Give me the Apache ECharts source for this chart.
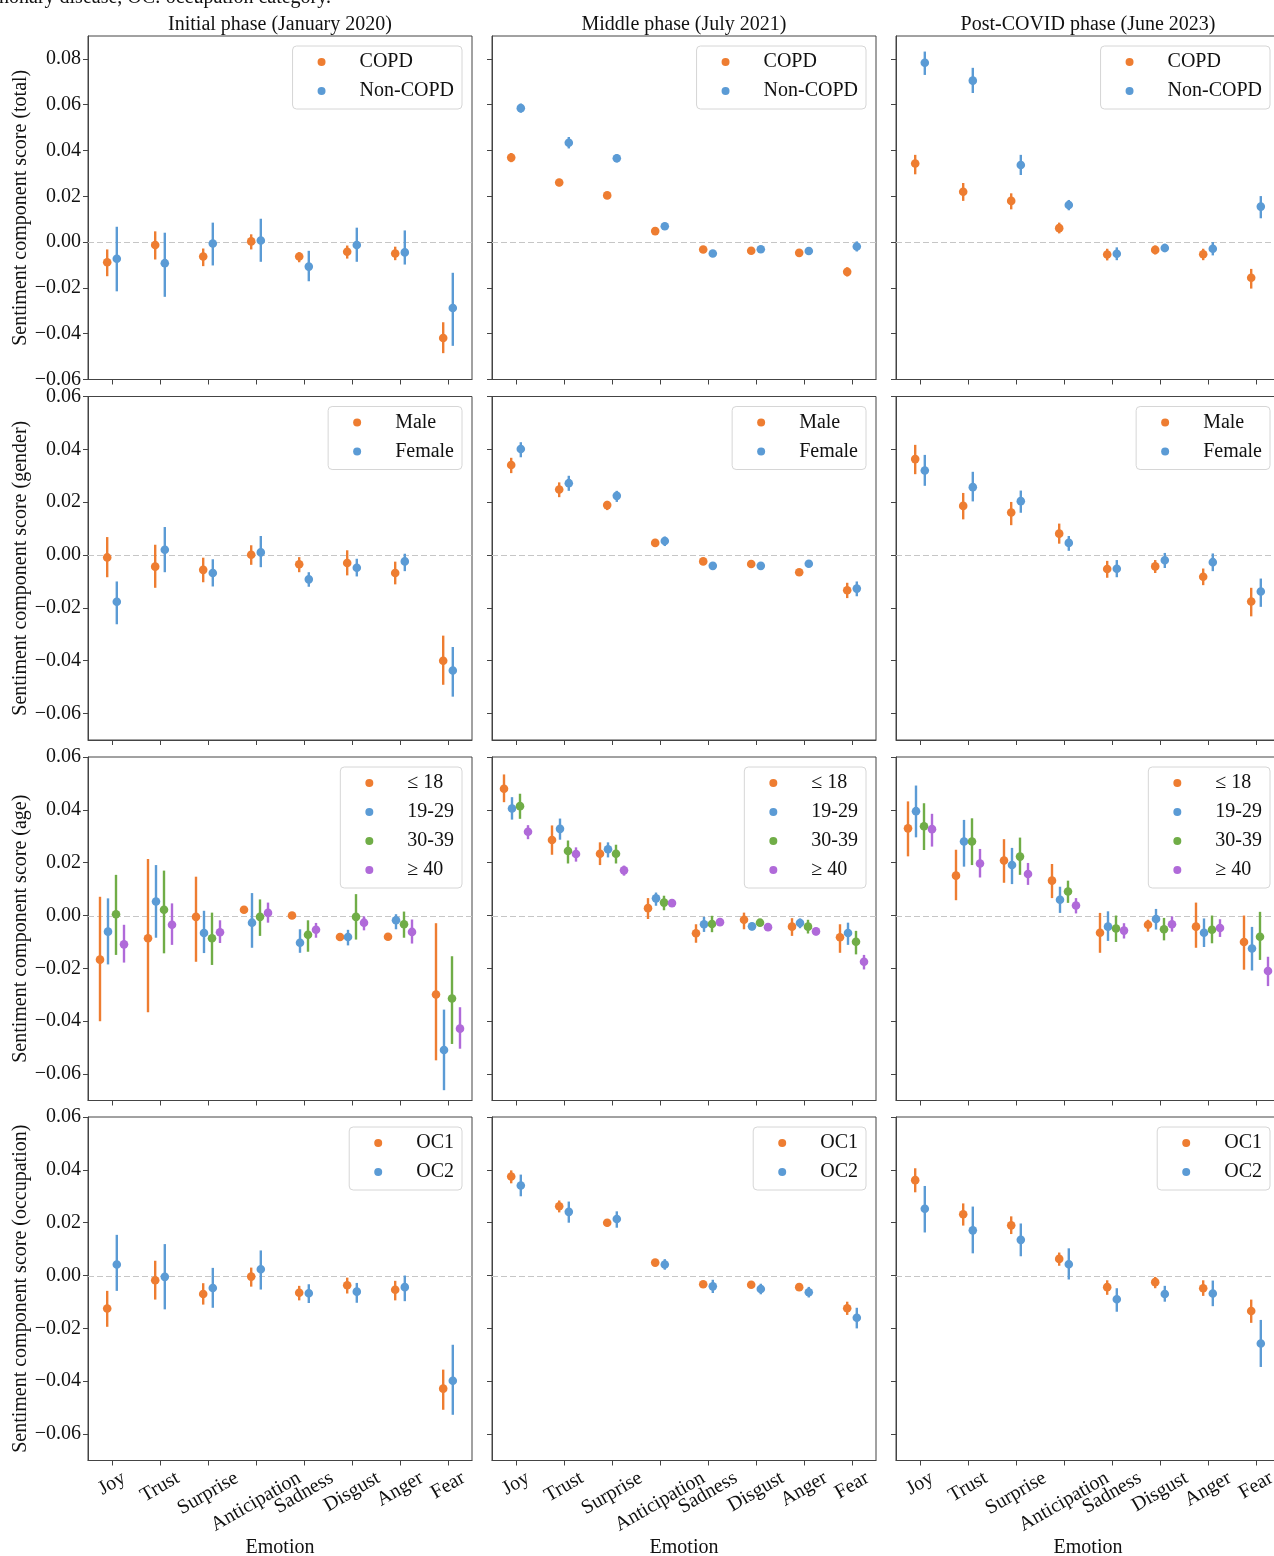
<!DOCTYPE html>
<html>
<head>
<meta charset="utf-8">
<script src="https://cdn.jsdelivr.net/npm/echarts@6/dist/echarts.min.js"></script>
<style>
  html, body { margin: 0; padding: 0; background: #fff; }
  #chart { width: 1274px; height: 1556px; }
</style>
</head>
<body>
<div id="chart"></div>
<script>
// categories and labels
const emotions = ['Joy', 'Trust', 'Surprise', 'Anticipation', 'Sadness', 'Disgust', 'Anger', 'Fear'];
const phases = ['Initial phase (January 2020)', 'Middle phase (July 2021)', 'Post-COVID phase (June 2023)'];
const rowNames = ['total', 'gender', 'age', 'occupation'];
const totalGroups = ['COPD', 'Non-COPD'];
const genderGroups = ['Male', 'Female'];
const ageGroups = ['≤ 18', '19-29', '30-39', '≥ 40'];
const occGroups = ['OC1', 'OC2'];
const ticksTotal = [-0.06, -0.04, -0.02, 0, 0.02, 0.04, 0.06, 0.08];
const ticksOther = [-0.06, -0.04, -0.02, 0, 0.02, 0.04, 0.06];

// each entry: [mean, lower, upper] per emotion
const totalInitialCOPD = [[-0.0088,-0.0149,-0.0032],[-0.0013,-0.0076,0.0047],[-0.0063,-0.0105,-0.0028],[0.0003,-0.0032,0.0034],[-0.0063,-0.0088,-0.0044],[-0.0042,-0.0072,-0.0015],[-0.0050,-0.0079,-0.0020],[-0.0419,-0.0485,-0.0350]];
const totalInitialNon = [[-0.0073,-0.0215,0.0067],[-0.0092,-0.0239,0.0041],[-0.0006,-0.0102,0.0085],[0.0007,-0.0086,0.0102],[-0.0107,-0.0171,-0.0038],[-0.0013,-0.0086,0.0063],[-0.0045,-0.0098,0.0051],[-0.0288,-0.0453,-0.0134]];
const totalMiddleCOPD = [[0.0369,0.0349,0.0389],[0.0260,0.0244,0.0276],[0.0204,0.0192,0.0216],[0.0048,0.0038,0.0058],[-0.0032,-0.0042,-0.0022],[-0.0038,-0.0048,-0.0028],[-0.0047,-0.0057,-0.0037],[-0.0130,-0.0150,-0.0110]];
const totalMiddleNon = [[0.0585,0.0565,0.0605],[0.0434,0.0409,0.0459],[0.0366,0.0348,0.0384],[0.0069,0.0059,0.0079],[-0.0050,-0.0060,-0.0040],[-0.0031,-0.0041,-0.0021],[-0.0039,-0.0049,-0.0029],[-0.0019,-0.0041,0.0003]];
const totalPostCOPD = [[0.0343,0.0296,0.0381],[0.0220,0.0180,0.0258],[0.0180,0.0143,0.0213],[0.0061,0.0038,0.0085],[-0.0054,-0.0080,-0.0029],[-0.0034,-0.0054,-0.0015],[-0.0053,-0.0079,-0.0029],[-0.0156,-0.0203,-0.0117]];
const totalPostNon = [[0.0783,0.0730,0.0832],[0.0705,0.0651,0.0761],[0.0337,0.0293,0.0381],[0.0162,0.0139,0.0184],[-0.0051,-0.0079,-0.0023],[-0.0026,-0.0044,-0.0007],[-0.0029,-0.0058,0.0000],[0.0155,0.0104,0.0201]];

const genderInitialMale = [[-0.0009,-0.0084,0.0068],[-0.0044,-0.0124,0.0039],[-0.0056,-0.0103,-0.0010],[0.0001,-0.0037,0.0037],[-0.0035,-0.0065,-0.0008],[-0.0030,-0.0077,0.0018],[-0.0068,-0.0111,-0.0025],[-0.0400,-0.0491,-0.0305]];
const genderInitialFemale = [[-0.0177,-0.0262,-0.0100],[0.0020,-0.0065,0.0106],[-0.0068,-0.0119,-0.0016],[0.0010,-0.0046,0.0072],[-0.0092,-0.0120,-0.0065],[-0.0048,-0.0081,-0.0014],[-0.0024,-0.0061,0.0005],[-0.0437,-0.0536,-0.0348]];
const genderMiddleMale = [[0.0341,0.0310,0.0368],[0.0248,0.0219,0.0275],[0.0189,0.0170,0.0205],[0.0046,0.0031,0.0061],[-0.0024,-0.0037,-0.0011],[-0.0034,-0.0044,-0.0024],[-0.0065,-0.0077,-0.0053],[-0.0133,-0.0163,-0.0105]];
const genderMiddleFemale = [[0.0401,0.0370,0.0427],[0.0272,0.0243,0.0300],[0.0224,0.0201,0.0243],[0.0053,0.0034,0.0070],[-0.0041,-0.0054,-0.0028],[-0.0041,-0.0051,-0.0031],[-0.0033,-0.0045,-0.0021],[-0.0127,-0.0156,-0.0100]];
const genderPostMale = [[0.0363,0.0306,0.0417],[0.0186,0.0135,0.0235],[0.0161,0.0113,0.0201],[0.0081,0.0043,0.0119],[-0.0053,-0.0086,-0.0022],[-0.0043,-0.0068,-0.0019],[-0.0082,-0.0114,-0.0051],[-0.0176,-0.0232,-0.0124]];
const genderPostFemale = [[0.0320,0.0262,0.0379],[0.0257,0.0203,0.0315],[0.0204,0.0160,0.0244],[0.0046,0.0016,0.0072],[-0.0052,-0.0084,-0.0019],[-0.0020,-0.0049,0.0008],[-0.0027,-0.0061,0.0006],[-0.0138,-0.0196,-0.0089]];

const ageInitial18 = [[-0.0167,-0.0400,0.0071],[-0.0086,-0.0366,0.0214],[-0.0005,-0.0175,0.0147],[0.0022,0.0022,0.0022],[0.0000,0.0000,0.0000],[-0.0081,-0.0081,-0.0081],[-0.0080,-0.0080,-0.0080],[-0.0299,-0.0548,-0.0029]];
const ageInitial19 = [[-0.0061,-0.0185,0.0065],[0.0053,-0.0084,0.0191],[-0.0066,-0.0142,0.0018],[-0.0027,-0.0122,0.0085],[-0.0103,-0.0141,-0.0052],[-0.0081,-0.0113,-0.0054],[-0.0018,-0.0052,0.0005],[-0.0509,-0.0661,-0.0356]];
const ageInitial30 = [[0.0005,-0.0149,0.0154],[0.0022,-0.0143,0.0170],[-0.0086,-0.0187,0.0011],[-0.0005,-0.0077,0.0061],[-0.0073,-0.0137,-0.0018],[-0.0005,-0.0091,0.0081],[-0.0033,-0.0084,0.0015],[-0.0314,-0.0486,-0.0154]];
const ageInitial40 = [[-0.0109,-0.0178,-0.0035],[-0.0035,-0.0111,0.0046],[-0.0063,-0.0104,-0.0018],[0.0010,-0.0027,0.0049],[-0.0054,-0.0084,-0.0028],[-0.0027,-0.0056,-0.0003],[-0.0062,-0.0106,-0.0015],[-0.0428,-0.0504,-0.0347]];
const ageMiddle18 = [[0.0480,0.0429,0.0534],[0.0286,0.0230,0.0341],[0.0234,0.0191,0.0277],[0.0028,-0.0013,0.0066],[-0.0067,-0.0103,-0.0033],[-0.0016,-0.0052,0.0011],[-0.0042,-0.0077,-0.0010],[-0.0082,-0.0141,-0.0033]];
const ageMiddle19 = [[0.0405,0.0363,0.0448],[0.0328,0.0287,0.0367],[0.0251,0.0220,0.0277],[0.0065,0.0037,0.0087],[-0.0033,-0.0062,-0.0005],[-0.0041,-0.0056,-0.0027],[-0.0028,-0.0048,-0.0011],[-0.0066,-0.0111,-0.0027]];
const ageMiddle30 = [[0.0414,0.0366,0.0461],[0.0244,0.0197,0.0284],[0.0234,0.0197,0.0268],[0.0049,0.0020,0.0075],[-0.0032,-0.0063,-0.0001],[-0.0027,-0.0041,-0.0014],[-0.0042,-0.0068,-0.0016],[-0.0099,-0.0147,-0.0058]];
const ageMiddle40 = [[0.0317,0.0289,0.0342],[0.0233,0.0204,0.0258],[0.0171,0.0151,0.0189],[0.0047,0.0037,0.0056],[-0.0025,-0.0039,-0.0011],[-0.0044,-0.0056,-0.0033],[-0.0060,-0.0075,-0.0046],[-0.0175,-0.0204,-0.0149]];
const agePost18 = [[0.0330,0.0224,0.0432],[0.0151,0.0058,0.0249],[0.0208,0.0124,0.0289],[0.0132,0.0066,0.0195],[-0.0065,-0.0141,0.0010],[-0.0035,-0.0061,-0.0016],[-0.0042,-0.0122,0.0049],[-0.0100,-0.0205,0.0000]];
const agePost19 = [[0.0395,0.0296,0.0492],[0.0280,0.0185,0.0362],[0.0191,0.0119,0.0256],[0.0060,0.0010,0.0109],[-0.0042,-0.0096,0.0016],[-0.0013,-0.0053,0.0025],[-0.0065,-0.0119,-0.0011],[-0.0125,-0.0208,-0.0043]];
const agePost30 = [[0.0338,0.0248,0.0425],[0.0280,0.0191,0.0368],[0.0223,0.0154,0.0295],[0.0091,0.0048,0.0132],[-0.0049,-0.0100,0.0000],[-0.0052,-0.0094,-0.0009],[-0.0054,-0.0105,0.0000],[-0.0080,-0.0168,0.0014]];
const agePost40 = [[0.0327,0.0261,0.0385],[0.0197,0.0144,0.0252],[0.0157,0.0116,0.0199],[0.0038,0.0008,0.0066],[-0.0057,-0.0087,-0.0029],[-0.0033,-0.0061,-0.0003],[-0.0047,-0.0081,-0.0014],[-0.0210,-0.0267,-0.0156]];

const occInitialOC1 = [[-0.0125,-0.0194,-0.0058],[-0.0018,-0.0091,0.0056],[-0.0070,-0.0110,-0.0029],[-0.0004,-0.0042,0.0030],[-0.0065,-0.0094,-0.0039],[-0.0037,-0.0068,-0.0008],[-0.0054,-0.0094,-0.0020],[-0.0428,-0.0508,-0.0356]];
const occInitialOC2 = [[0.0042,-0.0058,0.0154],[-0.0005,-0.0128,0.0119],[-0.0047,-0.0122,0.0029],[0.0024,-0.0053,0.0095],[-0.0067,-0.0104,-0.0033],[-0.0061,-0.0103,-0.0028],[-0.0044,-0.0097,0.0000],[-0.0398,-0.0527,-0.0262]];
const occMiddleOC1 = [[0.0375,0.0349,0.0398],[0.0262,0.0239,0.0284],[0.0200,0.0186,0.0214],[0.0049,0.0039,0.0059],[-0.0033,-0.0043,-0.0023],[-0.0035,-0.0045,-0.0025],[-0.0044,-0.0054,-0.0034],[-0.0124,-0.0149,-0.0099]];
const occMiddleOC2 = [[0.0341,0.0300,0.0382],[0.0241,0.0200,0.0280],[0.0214,0.0181,0.0243],[0.0042,0.0022,0.0062],[-0.0041,-0.0066,-0.0016],[-0.0051,-0.0071,-0.0031],[-0.0063,-0.0083,-0.0043],[-0.0160,-0.0200,-0.0122]];
const occPostOC1 = [[0.0361,0.0315,0.0406],[0.0232,0.0189,0.0273],[0.0190,0.0157,0.0224],[0.0063,0.0037,0.0087],[-0.0044,-0.0073,-0.0018],[-0.0025,-0.0048,-0.0005],[-0.0048,-0.0077,-0.0018],[-0.0134,-0.0179,-0.0091]];
const occPostOC2 = [[0.0253,0.0163,0.0339],[0.0171,0.0084,0.0261],[0.0135,0.0073,0.0197],[0.0043,-0.0015,0.0103],[-0.0090,-0.0137,-0.0048],[-0.0070,-0.0099,-0.0039],[-0.0068,-0.0116,-0.0019],[-0.0257,-0.0346,-0.0168]];

const rowGroups = [totalGroups, genderGroups, ageGroups, occGroups];
const cells = [
  [[totalInitialCOPD, totalInitialNon], [totalMiddleCOPD, totalMiddleNon], [totalPostCOPD, totalPostNon]],
  [[genderInitialMale, genderInitialFemale], [genderMiddleMale, genderMiddleFemale], [genderPostMale, genderPostFemale]],
  [[ageInitial18, ageInitial19, ageInitial30, ageInitial40], [ageMiddle18, ageMiddle19, ageMiddle30, ageMiddle40], [agePost18, agePost19, agePost30, agePost40]],
  [[occInitialOC1, occInitialOC2], [occMiddleOC1, occMiddleOC2], [occPostOC1, occPostOC2]]
];

const SERIF = '"Liberation Serif", "Times New Roman", serif';
const TXT = '#111';
const AXIS = '#444';
const palette = ['#EE7D31', '#5B9BD5', '#70AD47', '#B06AD9'];
const WIDTH = 1274;
const colLeft = [88, 492, 896];
const rowTop = [36, 396.5, 757, 1117];
const PW = 384, PH = 343.5;

function fmt(v) {
  const s = Math.abs(v).toFixed(2);
  return v < -1e-9 ? '\u2212' + s : s;
}

// rotated x labels hang centred under their tick, like matplotlib's rotated labels;
// top/right padding moves the text along its own rotated frame
const measureCtx = document.createElement('canvas').getContext('2d');
measureCtx.font = '20px ' + SERIF;
function bottomLabel(name) {
  const w = measureCtx.measureText(name).width;
  const depth = 7.5 + (w * 0.5 + 20 * 0.866) / 2;   // axis line to text centre
  const d = depth / 1.155;
  const pt = Math.max(0, d - 10);
  const pr = 2 * 0.577 * d;
  return {
    value: name,
    textStyle: { align: 'center', verticalAlign: 'top', lineHeight: 20, padding: [pt, pr, 0, 0] }
  };
}

function makeRender(off) {
  return function (params, api) {
    const band = api.size([1, 0])[0];
    const c = api.coord([api.value(0), api.value(1)]);
    const x = c[0] + off * band;
    const yLo = api.coord([api.value(0), api.value(2)])[1];
    const yHi = api.coord([api.value(0), api.value(3)])[1];
    const color = api.visual('color');
    return {
      type: 'group',
      children: [
        { type: 'line', shape: { x1: x, y1: yLo, x2: x, y2: yHi }, style: { stroke: color, lineWidth: 2.4 } },
        { type: 'circle', shape: { cx: x, cy: c[1], r: 4.3 }, style: { fill: color } }
      ]
    };
  };
}

// dashed reference line at zero, across the whole panel
function renderZero(params, api) {
  const cs = params.coordSys;
  const y = Math.round(api.coord([0, 0])[1]) + 0.5;
  return {
    type: 'line',
    shape: { x1: cs.x, y1: y, x2: cs.x + cs.width, y2: y },
    style: { stroke: '#c6c6c6', lineWidth: 1, lineDash: [6, 3] }
  };
}

const grids = [], xAxes = [], yAxes = [], series = [], legends = [];
for (let r = 0; r < 4; r++) {
  const groups = rowGroups[r];
  const n = groups.length;
  const dodge = n === 2 ? 0.2 : 0.5;
  const ticks = r === 0 ? ticksTotal : ticksOther;
  for (let c = 0; c < 3; c++) {
    const g = grids.length;
    grids.push({
      left: colLeft[c], top: rowTop[r], width: PW, height: PH,
      show: true, borderColor: AXIS, borderWidth: 1, backgroundColor: '#fff',
      outerBoundsMode: 'none'
    });
    xAxes.push({
      type: 'category', gridIndex: g,
      data: r === 3 ? emotions.map(bottomLabel) : emotions,
      boundaryGap: true,
      axisLine: { show: true, onZero: false, lineStyle: { color: AXIS } },
      axisTick: { show: true, interval: 0, alignWithLabel: true, length: 5, lineStyle: { color: AXIS } },
      axisLabel: {
        show: r === 3, interval: 0, rotate: 30, margin: 0,
        fontFamily: SERIF, fontSize: 20, color: TXT
      },
      splitLine: { show: false },
      name: r === 3 ? 'Emotion' : '', nameLocation: 'middle', nameGap: 75,
      nameTextStyle: { fontFamily: SERIF, fontSize: 20, color: TXT }
    });
    yAxes.push({
      type: 'value', gridIndex: g,
      min: r === 0 ? -0.06 : -0.07, max: r === 0 ? 0.09 : 0.06,
      axisLine: { show: true, onZero: false, lineStyle: { color: AXIS } },
      axisTick: { show: true, length: 5, customValues: ticks, lineStyle: { color: AXIS } },
      axisLabel: {
        show: c === 0, customValues: ticks, formatter: fmt, margin: 7,
        fontFamily: SERIF, fontSize: 20, color: TXT
      },
      splitLine: { show: false },
      name: c === 0 ? 'Sentiment component score (' + rowNames[r] + ')' : '',
      nameLocation: 'middle', nameRotate: 90, nameGap: 56,
      nameTextStyle: { fontFamily: SERIF, fontSize: 20, color: TXT }
    });
    series.push({
      type: 'custom', xAxisIndex: g, yAxisIndex: g, silent: true, z: 1,
      renderItem: renderZero, data: [[0, 0]]
    });
    cells[r][c].forEach(function (arr, k) {
      const off = -dodge / 2 + k * dodge / (n - 1);
      series.push({
        type: 'custom', name: groups[k], xAxisIndex: g, yAxisIndex: g,
        itemStyle: { color: palette[k] },
        renderItem: makeRender(off),
        encode: { x: 0, y: [1, 2, 3] },
        data: arr.map(function (t, i) { return [i, t[0], t[1], t[2]]; }),
        z: 3
      });
    });
    legends.push({
      data: groups, orient: 'vertical',
      right: WIDTH - (colLeft[c] + PW - 10), top: rowTop[r] + 10,
      backgroundColor: '#fff', borderColor: '#d6d6d6', borderWidth: 1, borderRadius: 4,
      padding: [5, 8, 7, 25], itemGap: 7, itemWidth: 8, itemHeight: 8, icon: 'circle',
      selectedMode: false,
      textStyle: { fontFamily: SERIF, fontSize: 20, color: TXT, lineHeight: 22, padding: [0, 0, 0, 29] }
    });
  }
}

const chart = echarts.init(document.getElementById('chart'), null, { renderer: 'canvas' });
chart.setOption({
  animation: false,
  backgroundColor: '#fff',
  title: phases.map(function (t, c) {
    return {
      text: t, left: colLeft[c] + PW / 2, top: 15, textAlign: 'center', padding: 0,
      textStyle: { fontFamily: SERIF, fontSize: 20, fontWeight: 'normal', color: TXT }
    };
  }),
  graphic: [{
    type: 'text', left: -1, top: -12,
    style: { text: 'nonary disease, OC: occupation category.', font: '20px ' + SERIF, fill: TXT }
  }],
  legend: legends,
  grid: grids,
  xAxis: xAxes,
  yAxis: yAxes,
  series: series
});
</script>
</body>
</html>
